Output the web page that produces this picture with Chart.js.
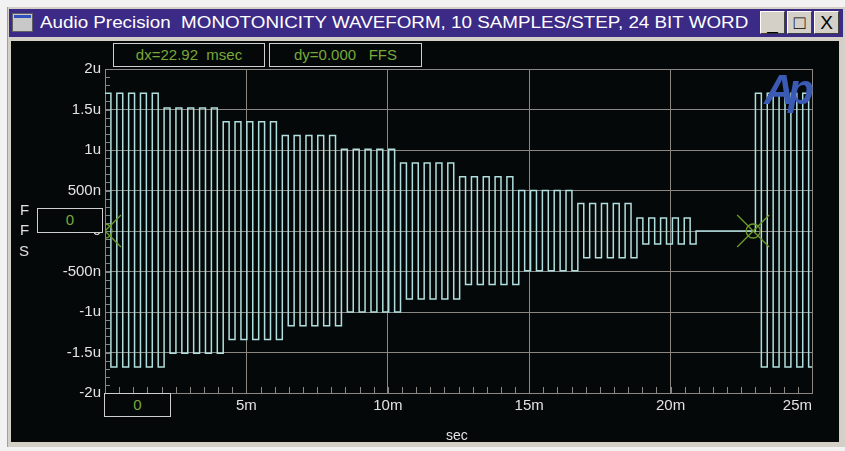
<!DOCTYPE html>
<html>
<head>
<meta charset="utf-8">
<script src="https://cdn.jsdelivr.net/npm/chart.js"></script>
<style>
  html, body { margin: 0; padding: 0; background: #f2f2f2; }
  #wrap { position: relative; width: 845px; height: 451px; overflow: hidden; font-family: "Liberation Sans", Arial, sans-serif; }
  .abs { position: absolute; box-sizing: border-box; }
  #frame { left: 7px; top: 7px; width: 838px; height: 440px; background: #d4d0c8; border-left: 1px solid #a0a0a0; }
  #titlebar { left: 9px; top: 9px; width: 834px; height: 28px; background: #3b2a86; }
  #content { left: 11px; top: 41px; width: 828px; height: 401px; background: #040808; }
  #icon { left: 12px; top: 13px; width: 21px; height: 19px; background: #c8c8c8; border: 1px solid #606060; }
  #icon div { position: absolute; left: 1px; top: 1px; right: 1px; height: 3px; background: #3050c0; }
  #title { left: 40px; top: 9px; height: 28px; line-height: 28px; color: #fff; font-size: 17px; white-space: pre; transform-origin: 0 50%; }
  .btn { top: 11px; width: 25px; height: 23px; background: #d4d0c8; border: 1px solid; border-color: #fff #404040 #404040 #fff; color: #000; font-size: 19px; text-align: center; line-height: 21px; }
  .box { border: 1.5px solid #cfcfcf; background: #040808; color: #7aa838; text-align: center; font-size: 15px; white-space: pre; }
  .lbl { color: #e2e2e2; font-size: 15px; }
  #chartCanvas { position: absolute; left: 0; top: 0; }
  #logo { left: 764px; top: 67px; color: #3a5ab4; font-size: 42px; font-weight: bold; font-style: italic; letter-spacing: -6px; line-height: 46px; }
</style>
</head>
<body>
<div id="wrap">
  <div class="abs" id="frame"></div>
  <div class="abs" id="titlebar"></div>
  <div class="abs" id="icon"><div></div></div>
  <div class="abs" id="title">Audio Precision  MONOTONICITY WAVEFORM, 10 SAMPLES/STEP, 24 BIT WORD</div>
  <div class="abs btn" style="left:760px;">_</div>
  <div class="abs btn" style="left:787px;">&#9633;</div>
  <div class="abs btn" style="left:814px;">X</div>
  <div class="abs" id="content"></div>
  <canvas id="chartCanvas" width="845" height="451"></canvas>
  <div class="abs box" style="left:113px; top:43px; width:152px; height:24px; line-height:21px;">dx=22.92  msec</div>
  <div class="abs box" style="left:269px; top:43px; width:153px; height:24px; line-height:21px;">dy=0.000   FFS</div>
  <div class="abs box" style="left:37px; top:208px; width:66px; height:25px; line-height:22px;">0</div>
  <div class="abs box" style="left:104px; top:393px; width:67px; height:24px; line-height:21px;">0</div>
  <div class="abs lbl" style="left:20px; top:201px;">F</div>
  <div class="abs lbl" style="left:20px; top:221px;">F</div>
  <div class="abs lbl" style="left:19px; top:242px;">S</div>
  <div class="abs lbl" style="left:446px; top:427px; font-size:14px;">sec</div>
  <div class="abs" id="logo">Ap</div>
</div>
<script>
// stretch title text to the width it has in the window caption
var titleEl = document.getElementById('title');
titleEl.style.transform = 'scaleX(' + (708 / titleEl.offsetWidth) + ')';

// values, time in msec, level in u (1e-6 FFS)
var xTicksMs = [0, 5, 10, 15, 20, 25];
var xTickLabels = ['', '5m', '10m', '15m', '20m', '25m'];
var yTicksU = [-2, -1.5, -1, -0.5, 0, 0.5, 1, 1.5, 2];
var yTickLabels = ['-2u', '-1.5u', '-1u', '-500n', '0', '500n', '1u', '1.5u', '2u'];

var stepHigh = [1.70, 1.52, 1.35, 1.18, 1.01, 0.84, 0.67, 0.50, 0.34, 0.16];
var stepLow = [-1.68, -1.51, -1.34, -1.17, -1.00, -0.84, -0.66, -0.49, -0.33, -0.16];
var cyclesPerStep = 5;
var halfCycleMs = 0.209;
var restartMs = 23.0;
var restartHigh = 1.70;
var restartLow = -1.68;
var cursorsMs = [0, 22.92];

// build the step trace (one point per half cycle start, drawn stepped)
var trace = [];
var t = 0;
stepHigh.forEach(function(hi, k){
  for (var c = 0; c < cyclesPerStep; c++) {
    trace.push({x: t, y: hi}); t += halfCycleMs;
    trace.push({x: t, y: stepLow[k]}); t += halfCycleMs;
  }
});
trace.push({x: t, y: 0});
t = restartMs;
while (t < 25.5) {
  trace.push({x: t, y: restartHigh}); t += halfCycleMs;
  trace.push({x: t, y: restartLow}); t += halfCycleMs;
}

var gridColor = '#8a8682';

var minorTicks = {
  id: 'minorTicks',
  beforeDatasetsDraw: function(chart){
    var c = chart.ctx, a = chart.chartArea;
    var xs = chart.scales.x, ys = chart.scales.y;
    c.save();
    c.strokeStyle = gridColor;
    c.lineWidth = 1;
    c.beginPath();
    for (var i = 1; i < 50; i++) {
      var px = Math.round(xs.getPixelForValue(i * 0.5)) + 0.5;
      c.moveTo(px, a.bottom); c.lineTo(px, a.bottom - 6);
    }
    for (var j = -19; j < 20; j++) {
      var py = Math.round(ys.getPixelForValue(j * 0.1)) + 0.5;
      c.moveTo(a.left, py); c.lineTo(a.left + 5, py);
    }
    c.stroke();
    c.restore();
  }
};

var cursors = {
  id: 'cursors',
  afterDatasetsDraw: function(chart){
    var c = chart.ctx, a = chart.chartArea;
    c.save();
    c.beginPath();
    c.rect(a.left, a.top, a.right - a.left, a.bottom - a.top);
    c.clip();
    c.strokeStyle = '#6c9c2c';
    c.lineWidth = 1.3;
    cursorsMs.forEach(function(ms){
      var cx = chart.scales.x.getPixelForValue(ms);
      var cy = chart.scales.y.getPixelForValue(0);
      c.beginPath();
      c.moveTo(cx - 16, cy - 16); c.lineTo(cx + 16, cy + 16);
      c.moveTo(cx - 16, cy + 16); c.lineTo(cx + 16, cy - 16);
      c.stroke();
      c.beginPath();
      c.arc(cx, cy, 7, 0, Math.PI * 2);
      c.stroke();
    });
    c.restore();
  }
};

var ctx = document.getElementById('chartCanvas');
var myChart = new Chart(ctx, {
  type: 'line',
  data: {
    datasets: [{
      data: trace,
      borderColor: '#b0dede',
      borderWidth: 1.5,
      pointRadius: 0,
      stepped: 'before',
      fill: false
    }]
  },
  options: {
    responsive: false,
    animation: false,
    events: [],
    layout: { padding: { left: 0, top: 69, right: 33, bottom: 0 } },
    plugins: { legend: { display: false }, tooltip: { enabled: false } },
    scales: {
      x: {
        type: 'linear',
        min: 0,
        max: 25,
        afterFit: function(s){ s.height = 58; },
        afterBuildTicks: function(s){ s.ticks = xTicksMs.map(function(v){ return {value: v}; }); },
        grid: { color: gridColor, lineWidth: 1, drawTicks: false },
        border: { color: gridColor },
        ticks: {
          color: '#e2e2e2',
          font: { family: 'Liberation Sans', size: 15 },
          padding: 4,
          align: 'inner',
          maxRotation: 0,
          autoSkip: false,
          callback: function(v){ return xTickLabels[xTicksMs.indexOf(v)]; }
        }
      },
      y: {
        type: 'linear',
        min: -2,
        max: 2,
        afterFit: function(s){ s.width = 105; },
        afterBuildTicks: function(s){ s.ticks = yTicksU.map(function(v){ return {value: v}; }); },
        grid: { color: gridColor, lineWidth: 1, drawTicks: false },
        border: { color: gridColor },
        ticks: {
          color: '#e2e2e2',
          font: { family: 'Liberation Sans', size: 15 },
          padding: 4,
          autoSkip: false,
          callback: function(v){ return yTickLabels[yTicksU.indexOf(v)]; }
        }
      }
    }
  },
  plugins: [minorTicks, cursors]
});
</script>
</body>
</html>
